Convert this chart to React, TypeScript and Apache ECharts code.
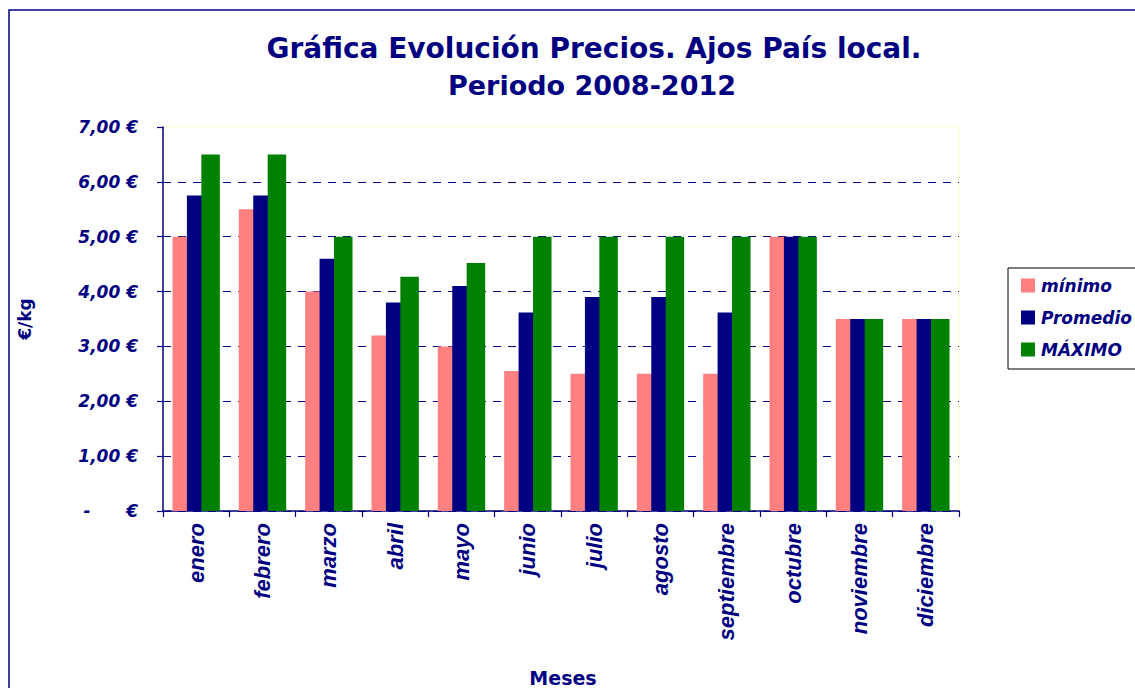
import React, { useEffect, useRef } from "react";
import * as echarts from "echarts";

const months = ["enero", "febrero", "marzo", "abril", "mayo", "junio", "julio", "agosto", "septiembre", "octubre", "noviembre", "diciembre"];
const minimo = [5.0, 5.5, 4.0, 3.2, 3.0, 2.55, 2.5, 2.5, 2.5, 5.0, 3.5, 3.5];
const promedio = [5.75, 5.75, 4.6, 3.8, 4.1, 3.62, 3.9, 3.9, 3.62, 5.0, 3.5, 3.5];
const maximo = [6.5, 6.5, 5.0, 4.27, 4.52, 5.0, 5.0, 5.0, 5.0, 5.0, 3.5, 3.5];
const seriesNames = ["mínimo", "Promedio", "MÁXIMO"];
const titleLines = ["Gráfica Evolución Precios. Ajos País local.", "Periodo 2008-2012"];
const yMin = 0;
const yMax = 7;
const yInterval = 1;

const NAVY = "#000080";
const colors = ["#FF8080", "#000080", "#008000"];
const DJ = "DejaVu Sans";
const LIB = "Liberation Sans";

export default function App() {
  const ref = useRef<HTMLDivElement>(null);
  useEffect(() => {
    if (!ref.current) return;
    const chart = echarts.init(ref.current, null, { renderer: "svg" });
    const datasets = [minimo, promedio, maximo];
    chart.setOption({
      animation: false,
      backgroundColor: "#ffffff",
      graphic: [
        {
          type: "rect",
          shape: { x: 9, y: 10, width: 1300, height: 900 },
          style: { fill: "none", stroke: NAVY, lineWidth: 1.5 },
          silent: true,
        },
        {
          type: "text",
          x: 594,
          y: 48,
          style: {
            text: titleLines[0],
            fill: NAVY,
            font: `bold 28px '${DJ}'`,
            textAlign: "center",
            textVerticalAlign: "middle",
          },
        },
        {
          type: "text",
          x: 592,
          y: 85,
          style: {
            text: titleLines[1],
            fill: NAVY,
            font: `bold 27px '${DJ}'`,
            textAlign: "center",
            textVerticalAlign: "middle",
          },
        },
      ],
      legend: {
        orient: "vertical",
        left: 1008,
        top: 268,
        padding: [9, 10, 11, 13],
        itemWidth: 14,
        itemHeight: 14,
        itemGap: 15,
        icon: "rect",
        borderColor: "#000000",
        borderWidth: 1,
        backgroundColor: "#ffffff",
        textStyle: {
          color: NAVY,
          fontFamily: DJ,
          fontWeight: "bold",
          fontStyle: "italic",
          fontSize: 17,
          padding: [0, 0, 0, 1],
        },
        data: seriesNames,
      },
      grid: {
        left: 163,
        top: 127,
        width: 796,
        height: 384,
        show: true,
        borderColor: "#FFFFC8",
        borderWidth: 1,
        backgroundColor: "#ffffff",
        containLabel: false,
        outerBoundsMode: "none",
      },
      xAxis: {
        type: "category",
        data: months,
        name: "Meses",
        nameLocation: "middle",
        nameGap: 157,
        nameTextStyle: {
          color: NAVY,
          fontFamily: DJ,
          fontWeight: "bold",
          fontSize: 19,
          padding: [0, 0, 0, 4],
        },
        axisLine: { lineStyle: { color: NAVY, width: 1.5 } },
        axisTick: { show: true, length: 6, lineStyle: { color: NAVY, width: 1.2 } },
        axisLabel: {
          rotate: 90,
          margin: 12,
          color: NAVY,
          fontFamily: LIB,
          fontWeight: "bold",
          fontStyle: "italic",
          fontSize: 22,
        },
      },
      yAxis: {
        type: "value",
        min: yMin,
        max: yMax,
        interval: yInterval,
        name: "€/kg",
        nameLocation: "middle",
        nameGap: 130,
        nameTextStyle: {
          color: NAVY,
          fontFamily: DJ,
          fontWeight: "bold",
          fontSize: 17,
        },
        axisLine: { show: true, lineStyle: { color: NAVY, width: 1.5 } },
        axisTick: { show: true, length: 6, lineStyle: { color: NAVY, width: 1.2 } },
        axisLabel: {
          margin: 25,
          color: NAVY,
          fontFamily: DJ,
          fontWeight: "bold",
          fontStyle: "italic",
          fontSize: 17,
          formatter: (v: number) =>
            v === 0
              ? "-\u00a0\u00a0\u00a0\u00a0\u00a0\u00a0€"
              : v.toFixed(2).replace(".", ",") + " €",
        },
        splitLine: {
          show: true,
          showMaxLine: false,
          lineStyle: { color: NAVY, type: [8, 7], width: 1 },
        },
      },
      series: datasets.map((d, i) => ({
        name: seriesNames[i],
        type: "bar",
        data: d,
        barWidth: 18.5,
        barGap: "-22%",
        itemStyle: { color: colors[i] },
      })),
    });
    return () => chart.dispose();
  }, []);
  return (
    <div
      ref={ref}
      style={{ position: "fixed", left: 0, top: 0, width: 1135, height: 688, background: "#fff" }}
    />
  );
}
